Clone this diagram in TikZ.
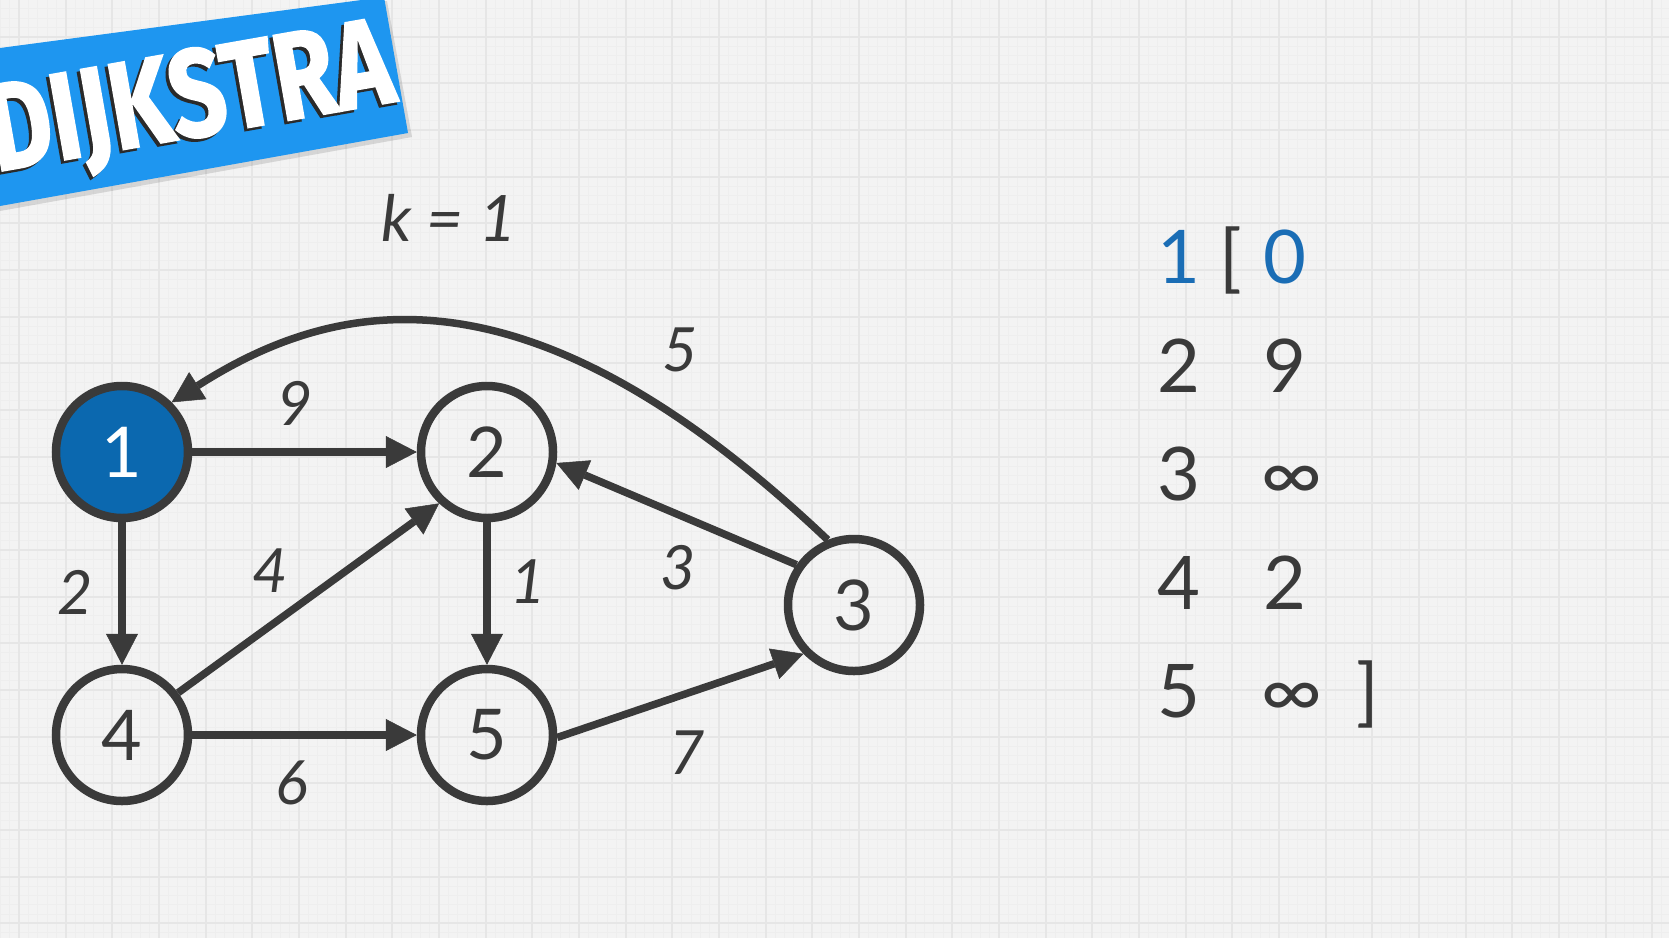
\documentclass[tikz,border=0pt]{standalone}
\usepackage{fontspec}
\setmainfont{Lato}
\newfontfamily\bannerfont{Fira Sans}[BoldFeatures={FakeBold=1.6}]
\usetikzlibrary{arrows.meta}

\definecolor{paper}{HTML}{F3F3F3}
\definecolor{gridmajor}{HTML}{E6E6E6}
\definecolor{gridminor}{HTML}{EEEEEE}
\definecolor{ink}{HTML}{3A3A3A}
\definecolor{visited}{HTML}{0B68AF}
\definecolor{distblue}{HTML}{1A6DB5}
\definecolor{bannerblue}{HTML}{1E96F0}
\definecolor{bannershade}{HTML}{2A2A2A}

\tikzset{
  vertex/.style={circle, draw=ink, line width=8.5pt, minimum size=132pt,
    inner sep=0pt, outer sep=4.25pt, text=ink,
    font=\fontsize{70}{80}\selectfont},
  source/.style={vertex, fill=visited, text=white},
  edge/.style={draw=ink, line width=7.5pt,
    -{Triangle[length=31pt,width=32pt,line width=0.5pt]}},
  weight/.style={text=ink, inner sep=0pt,
    font=\fontsize{61}{70}\selectfont\itshape},
  entry/.style={text=ink, inner sep=0pt, anchor=base,
    font=\fontsize{74}{84}\selectfont},
  title/.style={inner sep=0pt, anchor=base east, rotate=10,
    font=\bannerfont\bfseries},
}
\newcommand{\infsign}{\scalebox{1.15}[1]{∞}}

\begin{document}
\begin{tikzpicture}[x=1pt,y=-1pt]
  \useasboundingbox (0,0) rectangle (1669,938);
  \clip (0,0) rectangle (1669,938);

  % squared paper
  \fill[paper] (0,0) rectangle (1669,938);
  \foreach \i in {0,...,185} {
    \draw[gridminor, line width=0.6pt] ({-27.667+\i*9.3333},0) -- ++(0,938);
  }
  \foreach \i in {0,...,105} {
    \draw[gridminor, line width=0.6pt] (0,{-9.967+\i*9.3333}) -- ++(1669,0);
  }
  \foreach \i in {0,...,36} {
    \draw[gridmajor, line width=2pt] ({19+\i*46.667},0) -- ++(0,938);
  }
  \foreach \i in {0,...,20} {
    \draw[gridmajor, line width=2pt] (0,{-9.967+\i*46.667}) -- ++(1669,0);
  }

  % title banner
  \fill[black, opacity=0.12] (0,52) -- (387,1) -- (412,137) -- (0,211) -- cycle;
  \fill[bannerblue] (0,48) -- (384,-3) -- (408,133) -- (0,206) -- cycle;
  \node[title, text=bannershade] (titleshade) at (395,104)
    {\resizebox{408pt}{88pt}{DIJKSTRA}};
  \node[title, text=white] (titletext) at (398,101)
    {\resizebox{408pt}{88pt}{DIJKSTRA}};

  % iteration counter
  \node[text=ink, inner sep=0pt, font=\fontsize{64}{72}\selectfont\itshape]
    (iter) at (449,218) {k = 1};

  % vertices
  \node[source] (n1) at (122,452) {1};
  \node[vertex] (n2) at (487,452) {2};
  \node[vertex] (n3) at (854,605) {3};
  \node[vertex] (n4) at (122,735) {4};
  \node[vertex] (n5) at (487,735) {5};

  % directed edges
  \draw[edge] (n1) -- (n2);
  \draw[edge] (n1) -- (n4);
  \draw[edge] (n4) -- (n5);
  \draw[edge] (n2) -- (n5);
  \draw[edge] (n4.37) -- (n2.227);
  \draw[edge] (n3.145) -- (n2.-9);
  \draw[edge] (n5.-2) -- (n3.224);
  \draw[edge] (n3.112) .. controls +(-290,-275) and +(175,-112) .. (n1.45);

  % edge weights
  \node[weight] (w12) at (295,403) {9};
  \node[weight] (w14) at (75,592) {2};
  \node[weight] (w42) at (270,571) {4};
  \node[weight] (w25) at (528,582) {1};
  \node[weight] (w45) at (292,783) {6};
  \node[weight] (w32) at (678,568) {3};
  \node[weight] (w31) at (680,350) {5};
  \node[weight] (w53) at (687,753) {7};

  % distance list
  \node[entry, text=distblue] (v1) at (1179,283) {1};
  \node[entry] (open) at (1231,283) {[};
  \node[entry, text=distblue] (d1) at (1285,283) {0};
  \node[entry] (v2) at (1179,392) {2};
  \node[entry] (d2) at (1285,392) {9};
  \node[entry] (v3) at (1179,500) {3};
  \node[entry] (d3) at (1292,500) {\infsign};
  \node[entry] (v4) at (1179,609) {4};
  \node[entry] (d4) at (1285,609) {2};
  \node[entry] (v5) at (1179,717) {5};
  \node[entry] (d5) at (1292,717) {\infsign};
  \node[entry] (close) at (1368,717) {]};
\end{tikzpicture}
\end{document}
